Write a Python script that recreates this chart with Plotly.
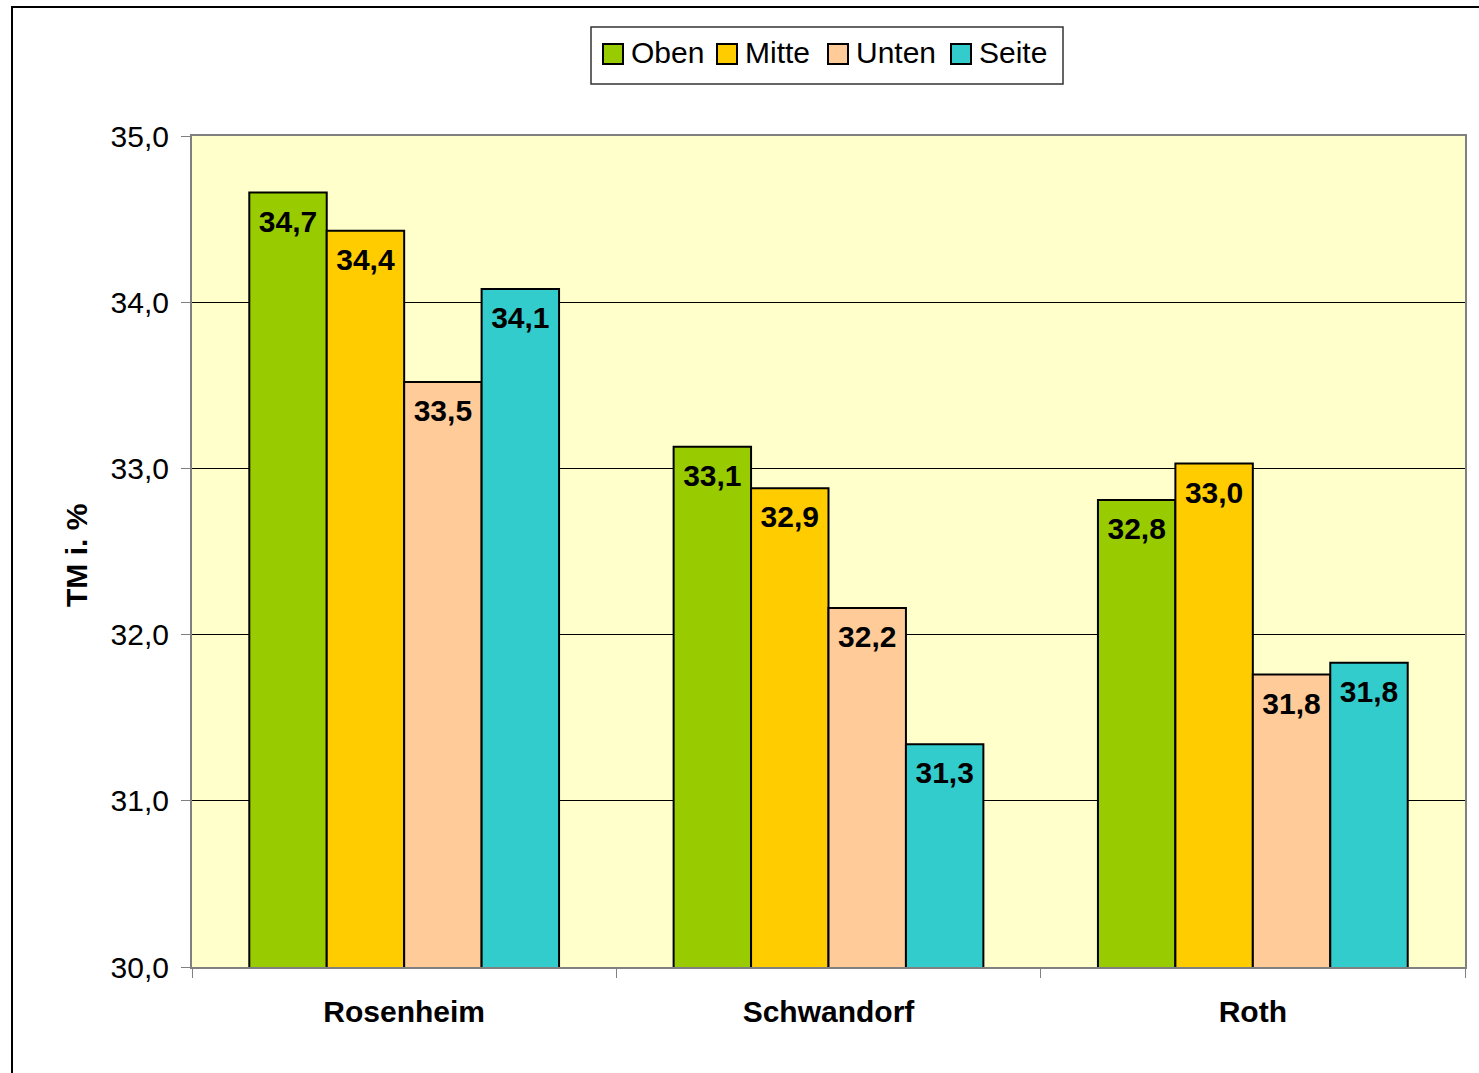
import plotly.graph_objects as go

categories = ["Rosenheim", "Schwandorf", "Roth"]
series_names = ["Oben", "Mitte", "Unten", "Seite"]
oben = [34.66, 33.13, 32.81]
mitte = [34.43, 32.88, 33.03]
unten = [33.52, 32.16, 31.76]
seite = [34.08, 31.34, 31.83]
colors = ["#99CC00", "#FFCC00", "#FFCC99", "#33CCCC"]
y_ticks = [30, 31, 32, 33, 34, 35]

W, H = 1479, 1073
L, R, T, B = 192, 14, 136, 106
pw, ph = W - L - R, H - T - B
FONT = "Liberation Sans, Arial"

def px_x(x):
    return (x - L) / pw

def px_y(y):
    return (H - B - y) / ph

fig = go.Figure()
for i, (name, vals, col) in enumerate(zip(series_names, [oben, mitte, unten, seite], colors)):
    fig.add_trace(go.Bar(
        name=name, x=categories, y=vals,
        marker=dict(color=col, line=dict(color="black", width=2)),
        showlegend=False, offsetgroup=str(i), hoverinfo="skip",
    ))
for i, (name, vals) in enumerate(zip(series_names, [oben, mitte, unten, seite])):
    fig.add_trace(go.Scatter(
        name=name, x=categories, y=vals, mode="markers+text",
        marker=dict(size=25, color="rgba(0,0,0,0)", line=dict(width=0)),
        text=[f"{v:.1f}".replace(".", ",") for v in vals],
        textposition="bottom center",
        textfont=dict(family=FONT, size=30, color="black", weight="bold"),
        showlegend=False, offsetgroup=str(i), cliponaxis=False,
    ))

fig.update_layout(
    width=W, height=H,
    margin=dict(l=L, r=R, t=T, b=B, autoexpand=False),
    barmode="group", bargap=0.27, bargroupgap=0,
    scattermode="group", scattergap=0.27,
    plot_bgcolor="#FFFFCC", paper_bgcolor="white",
    separators=",.",
    font=dict(family=FONT, size=30, color="black"),
    xaxis=dict(showline=True, linecolor="#808080", linewidth=2, mirror=True,
               ticks="outside", tickson="boundaries", ticklen=9, tickcolor="#808080",
               tickfont=dict(size=30, weight="bold"), ticklabelstandoff=17,
               showgrid=False),
    yaxis=dict(range=[30, 35], tickvals=y_ticks, tickformat=".1f",
               showline=True, linecolor="#808080", linewidth=2, mirror=True,
               ticks="outside", ticklen=9, tickcolor="#808080",
               gridcolor="black", gridwidth=1, zeroline=False,
               ticklabelstandoff=6, tickfont=dict(size=30)),
)

fig.add_annotation(text="<b>TM i. %</b>", textangle=-90, xref="paper", yref="paper",
                   x=px_x(76), y=px_y(556), showarrow=False, font=dict(size=30),
                   xanchor="center", yanchor="middle")

# outer frame
fig.add_shape(type="rect", xref="paper", yref="paper",
              x0=px_x(12), x1=px_x(W + 50), y0=px_y(H + 50), y1=px_y(7),
              line=dict(color="black", width=2), fillcolor="rgba(0,0,0,0)", layer="below")

# legend (manual)
fig.add_shape(type="rect", xref="paper", yref="paper",
              x0=px_x(591), x1=px_x(1063), y0=px_y(84), y1=px_y(27),
              line=dict(color="#333333", width=1.5), fillcolor="white")
sq_x = [603, 717, 828, 951]
for name, col, sx in zip(series_names, colors, sq_x):
    fig.add_shape(type="rect", xref="paper", yref="paper",
                  x0=px_x(sx), x1=px_x(sx + 20), y0=px_y(64), y1=px_y(44),
                  line=dict(color="black", width=2), fillcolor=col)
    fig.add_annotation(text=name, xref="paper", yref="paper",
                       x=px_x(sx + 26), y=px_y(53), xanchor="left", yanchor="middle",
                       showarrow=False, font=dict(size=30))

fig.write_html("out.html")
